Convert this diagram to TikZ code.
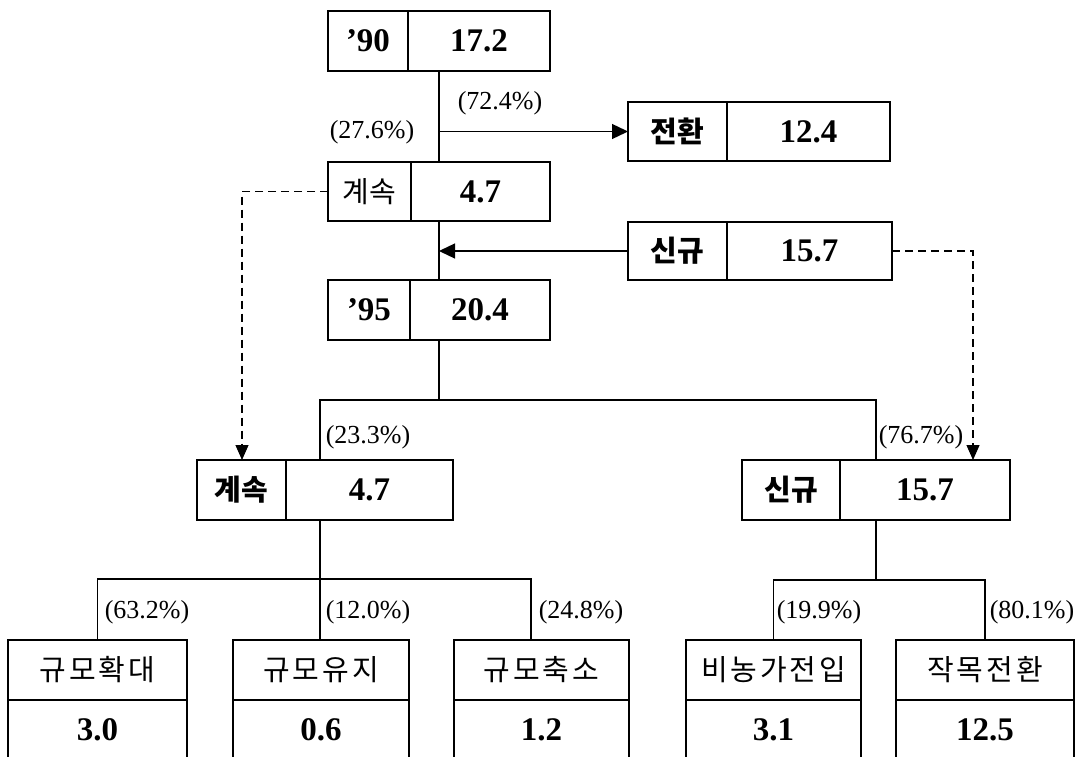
\documentclass[tikz,border=0pt]{standalone}
\usepackage{fontspec}
\setmainfont{Liberation Serif}
\newfontfamily\kr{Noto Sans CJK KR}
\newfontfamily\krsp[LetterSpace=10]{Noto Sans CJK KR}
\usetikzlibrary{arrows.meta,calc}
\begin{document}
\begin{tikzpicture}[x=1pt,y=-1pt,
  cell/.style={draw, line width=1.6pt, anchor=north west, inner sep=0pt, outer sep=0pt},
  box/.style n args={2}{minimum width=#1pt, minimum height=#2pt},
  num/.style={font=\bfseries\fontsize{33}{36}\selectfont},
  krl/.style={font=\kr\bfseries\fontsize{29}{32}\selectfont},
  krm/.style={font=\kr\fontsize{29}{32}\selectfont},
  krs/.style={font=\krsp\fontsize{29}{32}\selectfont},
  pct/.style={font=\fontsize{26}{28}\selectfont, inner sep=0pt},
  conn/.style={line width=1.3pt},
  arr/.style={conn, -{Triangle[length=16pt,width=15pt]}},
  dconn/.style={line width=1.2pt, dash pattern=on 8pt off 5pt},
  darr/.style={dconn, -{Triangle[length=15pt,width=13pt]}}]
\useasboundingbox (0,0) rectangle (1084,757);
\clip (0,0) rectangle (1084,757);

% top chain
\node[cell,box={80}{60},num] (y90) at (328,11) {’90};
\node[cell,box={142}{60},num] (v90) at (408,11) {17.2};
\node[cell,box={99}{59},krl] (lzh) at (628,102) {전환};
\node[cell,box={163}{59},num] (vzh) at (727,102) {12.4};
\node[cell,box={83}{59},krm] (lk1) at (328,162) {계속};
\node[cell,box={139}{59},num] (vk1) at (411,162) {4.7};
\node[cell,box={99}{58},krl] (ls1) at (628,222) {신규};
\node[cell,box={165}{58},num] (vs1) at (727,222) {15.7};
\node[cell,box={82}{60},num] (y95) at (328,280) {’95};
\node[cell,box={140}{60},num] (v95) at (410,280) {20.4};

% middle level
\node[cell,box={89}{60},krl] (lk2) at (197,460) {계속};
\node[cell,box={167}{60},num] (vk2) at (286,460) {4.7};
\node[cell,box={98}{60},krl] (ls2) at (742,460) {신규};
\node[cell,box={170}{60},num] (vs2) at (840,460) {15.7};

% bottom level
\node[cell,box={179}{60},krs] (a1) at (8,640) {규모확대};
\node[cell,box={179}{60},num] (b1) at (8,700) {3.0};
\node[cell,box={176}{60},krs] (a2) at (233,640) {규모유지};
\node[cell,box={176}{60},num] (b2) at (233,700) {0.6};
\node[cell,box={175}{60},krs] (a3) at (454,640) {규모축소};
\node[cell,box={175}{60},num] (b3) at (454,700) {1.2};
\node[cell,box={175}{60},krs] (a4) at (686,640) {비농가전입};
\node[cell,box={175}{60},num] (b4) at (686,700) {3.1};
\node[cell,box={178}{60},krs] (a5) at (896,640) {작목전환};
\node[cell,box={178}{60},num] (b5) at (896,700) {12.5};

% junction coordinates
\coordinate (t1) at (439,71);
\coordinate (t2) at (439,221);
\coordinate (t3) at (439,340);
\coordinate (hl) at (320,400);
\coordinate (hr) at (876,400);
\coordinate (dl) at (242,460);
\coordinate (dr) at (973,460);
\coordinate (gl) at (320,579);
\coordinate (gr) at (876,580);
\coordinate (p3) at (531,640);

% top connectors
\draw[conn] (t1) -- (t1 |- lk1.north);
\draw[arr] (t1 |- lzh.west) -- (lzh.west);
\draw[conn] (t2) -- (t2 |- y95.north);
\draw[arr] (ls1.west) -- (t2 |- ls1.west);
\draw[conn] (t3) -- (t3 |- hl);
\draw[conn] (hl |- lk2.north) -- (hl) -- (hr) -- (hr |- ls2.north);
\draw[darr] (lk1.west) -| (dl);
\draw[darr] (vs1.east) -| (dr);

% lower connectors
\draw[conn] (gl |- lk2.south) -- (gl);
\draw[conn] (a1.north) -- (a1.north |- gl) -- (p3 |- gl) -- (p3);
\draw[conn] (gl) -- (gl |- a2.north);
\draw[conn] (gr |- ls2.south) -- (gr);
\draw[conn] (a4.north) -- (a4.north |- gr) -- (a5.north |- gr) -- (a5.north);

% percentages
\node[pct] at (500,103) {(72.4\%)};
\node[pct] at (372,132) {(27.6\%)};
\node[pct] at (368,437) {(23.3\%)};
\node[pct] at (921,437) {(76.7\%)};
\node[pct] at (147,612) {(63.2\%)};
\node[pct] at (368,612) {(12.0\%)};
\node[pct] at (581,612) {(24.8\%)};
\node[pct] at (819,612) {(19.9\%)};
\node[pct] at (1032,612) {(80.1\%)};
\end{tikzpicture}
\end{document}
